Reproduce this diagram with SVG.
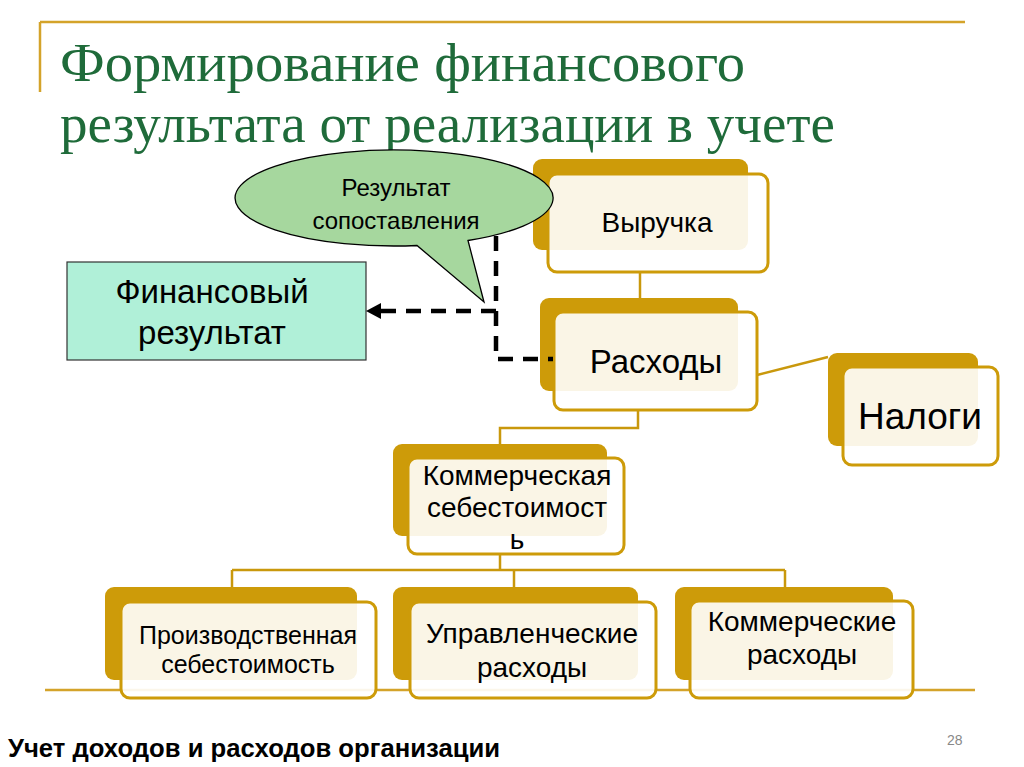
<svg xmlns="http://www.w3.org/2000/svg" width="1024" height="767" viewBox="0 0 1024 767">
<defs>
<style>
.back{fill:#CD9B09;}
.front{fill:#FFFFFF;fill-opacity:0.9;stroke:#CD9B09;stroke-width:3;}
.gold{fill:none;stroke:#C9980C;stroke-width:2.5;}
.dash{fill:none;stroke:#000;stroke-width:4.5;stroke-dasharray:15 10;}
.t{font-family:"Liberation Sans",Arial,sans-serif;fill:#000;text-anchor:middle;}
.title{font-family:"Liberation Serif","Times New Roman",serif;fill:#1F6B3A;font-size:55px;}
.rule{stroke:#D4A32A;stroke-width:2.5;fill:none;}
</style>
</defs>
<rect width="1024" height="767" fill="#FFFFFF"/>
<g id="frame">
<path class="rule" d="M40,22 H965 M40,22 V92"/>
<path class="rule" d="M45,690 H975"/>
</g>
<g id="title">
<text class="title" x="60" y="81" textLength="685" lengthAdjust="spacingAndGlyphs">Формирование финансового</text>
<text class="title" x="60" y="142" textLength="775" lengthAdjust="spacingAndGlyphs">результата от реализации в учете</text>
</g>
<g id="connectors">
<path class="gold" d="M640,272 V298"/>
<path class="gold" d="M757,375 L828,357"/>
<path class="gold" d="M638,410 V428 H500 V444"/>
<path class="gold" d="M500,553 V570 M232,570 H785 M232,570 V587 M514,570 V587 M785,570 V587"/>
</g>
<g id="node-vyruchka">
<rect class="back" x="533" y="159" width="215" height="91" rx="9"/>
<rect class="front" x="548" y="174" width="220" height="98" rx="9"/>
<text class="t" x="657" y="232" font-size="28">Выручка</text>
</g>
<g id="node-raskhody">
<rect class="back" x="540" y="298" width="198" height="93" rx="9"/>
<rect class="front" x="554" y="312" width="203" height="98" rx="9"/>
<text class="t" x="656" y="373" font-size="33">Расходы</text>
</g>
<g id="node-nalogi">
<rect class="back" x="828" y="353" width="150" height="93" rx="9"/>
<rect class="front" x="843" y="367" width="155" height="98" rx="9"/>
<text class="t" x="920" y="429" font-size="37">Налоги</text>
</g>
<g id="node-komm-sebestoimost">
<rect class="back" x="393" y="444" width="214" height="92" rx="9"/>
<rect class="front" x="408" y="458" width="216" height="96" rx="9"/>
<text class="t" x="517" y="485" font-size="28">Коммерческая</text>
<text class="t" x="517" y="517" font-size="28">себестоимост</text>
<text class="t" x="517" y="549" font-size="28">ь</text>
</g>
<g id="node-proizv">
<rect class="back" x="105" y="587" width="252" height="93" rx="9"/>
<rect class="front" x="121" y="602" width="255" height="96" rx="9"/>
<text class="t" x="248" y="644" font-size="25">Производственная</text>
<text class="t" x="248" y="673" font-size="25">себестоимость</text>
</g>
<g id="node-upravl">
<rect class="back" x="393" y="587" width="245" height="93" rx="9"/>
<rect class="front" x="410" y="602" width="246" height="96" rx="9"/>
<text class="t" x="532" y="643" font-size="28">Управленческие</text>
<text class="t" x="532" y="677" font-size="28">расходы</text>
</g>
<g id="node-komm-raskhody">
<rect class="back" x="675" y="587" width="218" height="93" rx="9"/>
<rect class="front" x="690" y="601" width="223" height="97" rx="9"/>
<text class="t" x="802" y="631" font-size="28">Коммерческие</text>
<text class="t" x="802" y="664" font-size="28">расходы</text>
</g>
<g id="node-fin-result">
<rect x="67" y="262" width="299" height="98" fill="#B0F0D8" stroke="#333" stroke-width="1.2"/>
<text class="t" x="212" y="303" font-size="33">Финансовый</text>
<text class="t" x="212" y="344" font-size="33">результат</text>
</g>
<g id="dashed-connectors">
<path class="dash" d="M548,188 H496 V359 H553"/>
<path class="dash" d="M496,311 H380"/>
<path d="M366,311 L381,303 L381,319 Z" fill="#000"/>
</g>
<g id="callout">
<path d="M417,245.5 A159,48 0 1,1 468,240.5 L484,302 Z" fill="#A6D79E" stroke="#000" stroke-width="1.3"/>
<text class="t" x="396" y="196" font-size="24">Результат</text>
<text class="t" x="396" y="229" font-size="24">сопоставления</text>
</g>
<g id="footer">
<text x="8" y="757" font-family="'Liberation Sans Narrow','Arial Narrow','Liberation Sans',sans-serif" font-weight="bold" font-size="25" textLength="492" lengthAdjust="spacingAndGlyphs" fill="#000">Учет доходов и расходов организации</text>
<text x="947" y="745" font-family="'Liberation Sans Narrow','Liberation Sans',sans-serif" font-size="14" fill="#888">28</text>
</g>
</svg>
